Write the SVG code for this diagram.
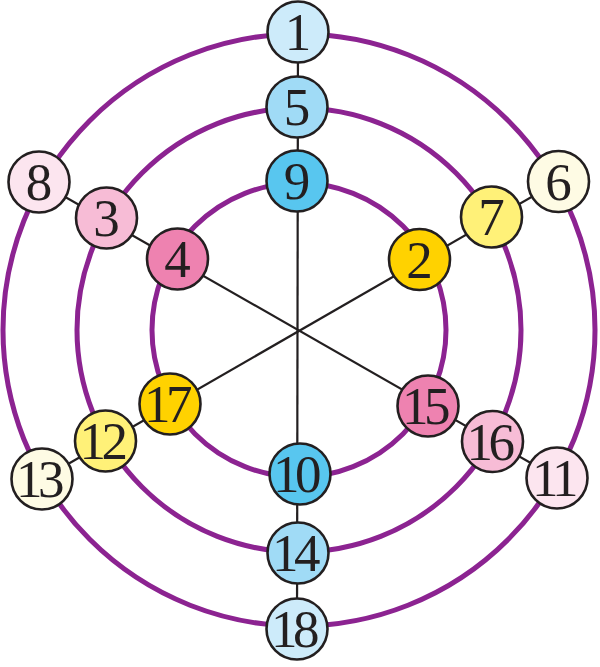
<svg xmlns="http://www.w3.org/2000/svg" width="600" height="667" viewBox="0 0 600 667">
<style>
.ring{fill:none;stroke:#8C2391;stroke-width:5}
.ln{stroke:#231F20;stroke-width:2.2;fill:none}
.nd circle{stroke:#231F20;stroke-width:2.6}
.nd text{font-family:"Liberation Serif","Times New Roman",serif;font-size:53px;fill:#231F20;text-anchor:middle}
.nd text.two{letter-spacing:-4.5px}
.b1{fill:#CDEBFA}.b2{fill:#A0DBF6}.b3{fill:#58C6EF}
.p1{fill:#FCE5EF}.p2{fill:#F7BCD6}.p3{fill:#EE82B0}
.y1{fill:#FEFBE4}.y2{fill:#FFF178}.y3{fill:#FFD200}
</style>
<rect width="600" height="667" fill="#FFFFFF"/>
<g id="rings">
<circle class="ring" cx="299" cy="330" r="147"/>
<circle class="ring" cx="299" cy="330" r="222"/>
<circle class="ring" cx="299" cy="330" r="296"/>
</g>
<g id="connectors">
<line class="ln" x1="298" y1="31" x2="297" y2="629"/>
<line class="ln" x1="39" y1="182" x2="557" y2="478"/>
<line class="ln" x1="558.5" y1="181.5" x2="42" y2="479"/>
</g>
<g id="n1" class="nd"><circle class="b1" cx="298" cy="32" r="30.5"/><text x="298" y="50">1</text></g>
<g id="n5" class="nd"><circle class="b2" cx="297" cy="107" r="30.5"/><text x="297" y="125">5</text></g>
<g id="n9" class="nd"><circle class="b3" cx="297" cy="181" r="30.5"/><text x="297" y="199">9</text></g>
<g id="n10" class="nd"><circle class="b3" cx="300" cy="474" r="30.5"/><text class="two" x="295" y="492">10</text></g>
<g id="n14" class="nd"><circle class="b2" cx="298" cy="553" r="30.5"/><text class="two" x="294" y="571">14</text></g>
<g id="n18" class="nd"><circle class="b1" cx="297" cy="629" r="30.5"/><text class="two" x="293" y="647">18</text></g>
<g id="n8" class="nd"><circle class="p1" cx="39" cy="182" r="30.5"/><text x="39" y="200">8</text></g>
<g id="n3" class="nd"><circle class="p2" cx="106.5" cy="218" r="30.5"/><text x="106.5" y="236">3</text></g>
<g id="n4" class="nd"><circle class="p3" cx="177.5" cy="259" r="30.5"/><text x="177.5" y="277">4</text></g>
<g id="n6" class="nd"><circle class="y1" cx="558.5" cy="181.5" r="30.5"/><text x="558.5" y="199.5">6</text></g>
<g id="n7" class="nd"><circle class="y2" cx="491.5" cy="217" r="30.5"/><text x="491.5" y="235">7</text></g>
<g id="n2" class="nd"><circle class="y3" cx="419.5" cy="259.5" r="30.5"/><text x="419.5" y="277.5">2</text></g>
<g id="n13" class="nd"><circle class="y1" cx="42" cy="479" r="30.5"/><text class="two" x="38" y="497">13</text></g>
<g id="n12" class="nd"><circle class="y2" cx="105.5" cy="441" r="30.5"/><text class="two" x="101.5" y="459">12</text></g>
<g id="n17" class="nd"><circle class="y3" cx="170" cy="404" r="30.5"/><text class="two" x="166" y="422">17</text></g>
<g id="n15" class="nd"><circle class="p3" cx="428" cy="406" r="30.5"/><text class="two" x="424" y="424">15</text></g>
<g id="n16" class="nd"><circle class="p2" cx="492.5" cy="441.5" r="30.5"/><text class="two" x="488.5" y="459.5">16</text></g>
<g id="n11" class="nd"><circle class="p1" cx="557" cy="478" r="30.5"/><text class="two" x="553" y="496">11</text></g>
</svg>
